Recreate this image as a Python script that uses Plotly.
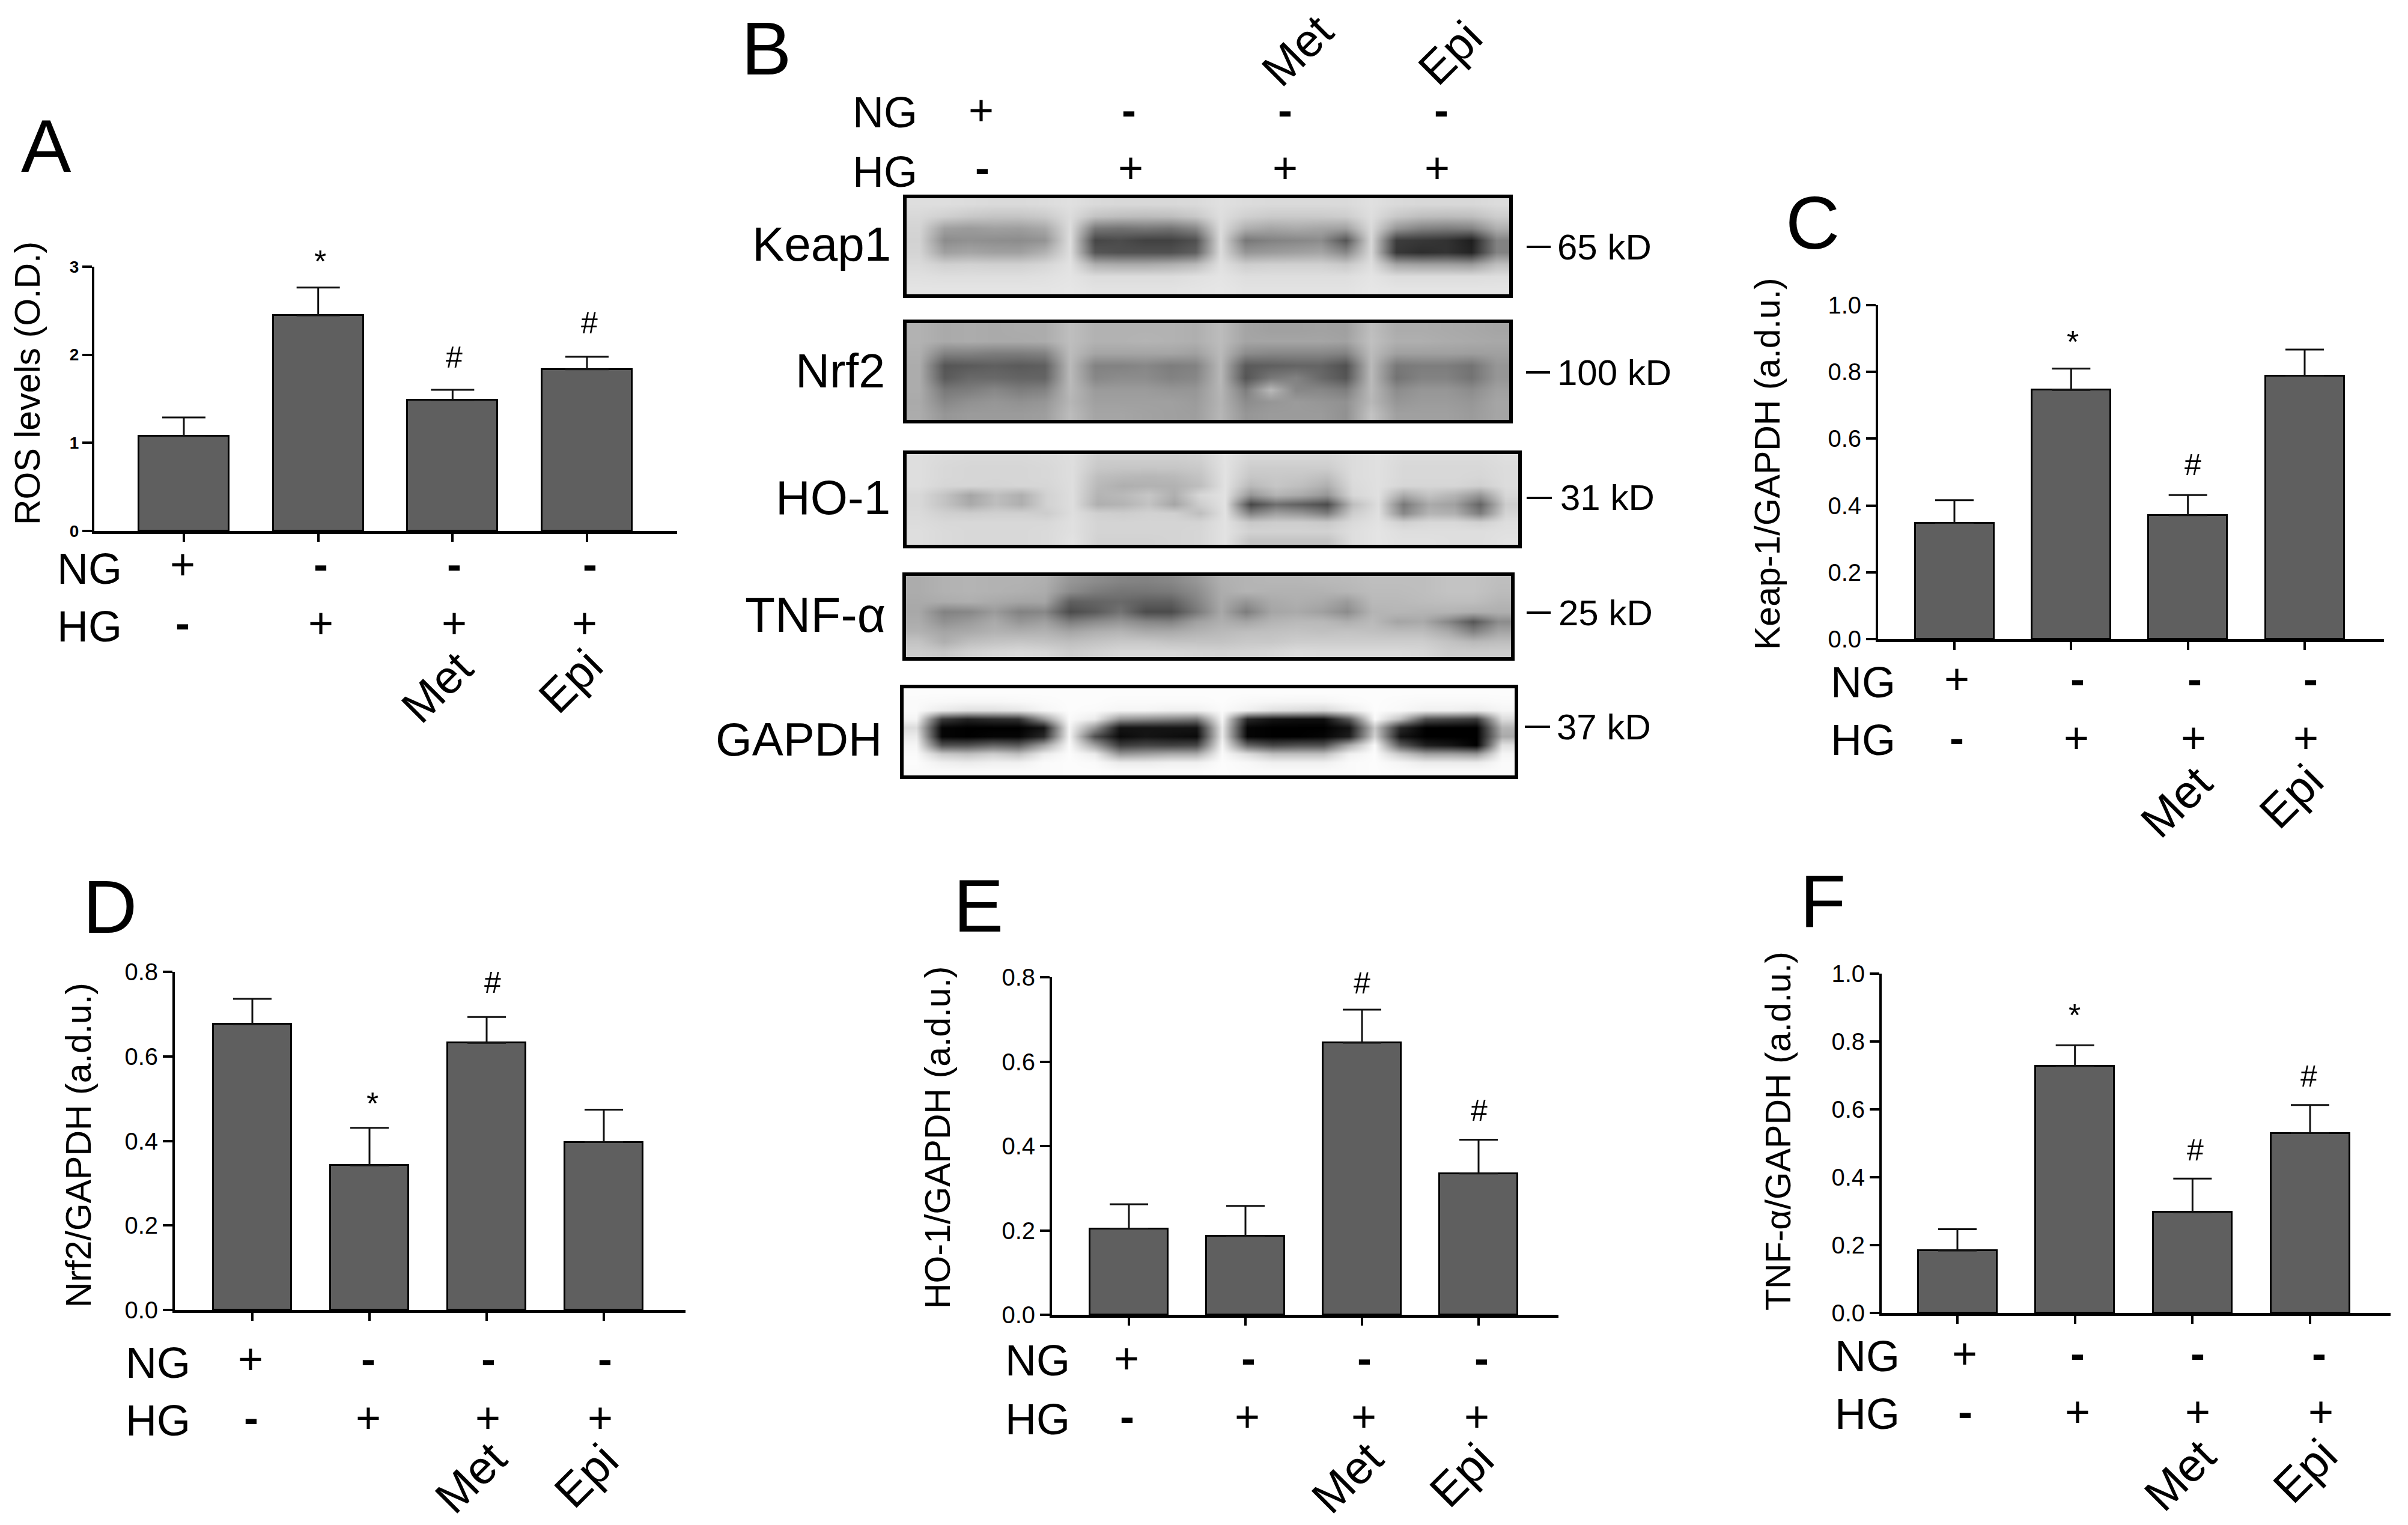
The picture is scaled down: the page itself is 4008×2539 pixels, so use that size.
import plotly.graph_objects as go

W, H = 4008, 2539
FONT = "Liberation Sans"

GROUPS = ["NG", "HG", "HG+Met", "HG+Epi"]
NG_SIGNS = ["+", "-", "-", "-"]
HG_SIGNS = ["-", "+", "+", "+"]

# bar panels: values and upper error bars
A_VALUES = [1.078, 2.447, 1.484, 1.836]
A_ERRORS = [0.21, 0.316, 0.119, 0.141]
C_VALUES = [0.348, 0.746, 0.371, 0.788]
C_ERRORS = [0.068, 0.064, 0.060, 0.079]
D_VALUES = [0.676, 0.342, 0.632, 0.397]
D_ERRORS = [0.060, 0.089, 0.061, 0.077]
E_VALUES = [0.204, 0.187, 0.645, 0.335]
E_ERRORS = [0.058, 0.071, 0.078, 0.080]
F_VALUES = [0.184, 0.728, 0.297, 0.530]
F_ERRORS = [0.063, 0.061, 0.099, 0.083]

# blot grey levels (0 black .. 255 white), one row per list
KEAP1 = [
    [222, 222, 220, 218, 218, 220, 224, 218, 216, 216, 216, 218, 224, 220, 218, 218, 218, 218, 224, 218, 216, 216, 216, 220],
    [216, 208, 200, 196, 196, 202, 220, 195, 190, 188, 190, 200, 222, 208, 202, 202, 202, 205, 222, 200, 190, 188, 190, 205],
    [212, 160, 155, 160, 158, 168, 220, 120, 115, 120, 115, 135, 220, 175, 165, 170, 165, 160, 218, 150, 130, 125, 130, 175],
    [210, 140, 145, 142, 140, 148, 222, 70, 75, 65, 65, 80, 220, 120, 130, 135, 140, 85, 216, 60, 55, 50, 30, 130],
    [212, 160, 165, 160, 160, 178, 222, 85, 80, 80, 80, 95, 220, 150, 155, 160, 165, 135, 216, 55, 45, 50, 35, 130],
    [218, 208, 210, 208, 208, 214, 226, 175, 170, 170, 175, 185, 224, 205, 208, 208, 208, 200, 222, 165, 160, 160, 155, 190],
    [224, 222, 222, 222, 222, 224, 228, 220, 220, 220, 220, 224, 228, 222, 222, 222, 222, 222, 228, 220, 220, 220, 220, 222],
    [228, 228, 228, 228, 228, 228, 230, 226, 226, 226, 226, 228, 230, 226, 226, 226, 226, 226, 230, 228, 228, 228, 228, 228],
]
NRF2 = [
    [178, 170, 172, 170, 172, 172, 190, 178, 178, 178, 178, 175, 188, 165, 160, 160, 162, 160, 190, 172, 172, 170, 168, 165],
    [178, 170, 172, 170, 170, 172, 190, 178, 178, 180, 178, 175, 188, 165, 165, 165, 165, 162, 192, 175, 175, 172, 170, 168],
    [175, 130, 130, 125, 125, 130, 188, 165, 165, 165, 165, 160, 186, 140, 135, 135, 135, 130, 188, 160, 160, 160, 158, 160],
    [172, 85, 90, 95, 90, 95, 186, 130, 130, 135, 125, 130, 184, 90, 95, 100, 100, 80, 186, 120, 125, 125, 115, 150],
    [172, 90, 105, 105, 100, 100, 186, 135, 140, 140, 130, 135, 184, 85, 120, 130, 105, 85, 186, 115, 130, 130, 115, 150],
    [172, 120, 125, 135, 125, 130, 185, 155, 155, 155, 150, 150, 182, 125, 185, 135, 135, 125, 186, 140, 150, 150, 140, 160],
    [170, 135, 145, 150, 145, 150, 182, 160, 160, 160, 160, 155, 180, 140, 150, 155, 150, 145, 184, 150, 155, 155, 150, 165],
    [172, 150, 155, 155, 155, 158, 188, 165, 165, 162, 160, 158, 182, 150, 155, 155, 155, 145, 195, 160, 160, 160, 155, 165],
]
HO1 = [
    [222, 218, 216, 216, 216, 218, 222, 205, 205, 205, 205, 208, 226, 212, 212, 212, 212, 220, 224, 218, 218, 218, 218, 222],
    [222, 216, 214, 214, 214, 216, 222, 200, 198, 198, 198, 202, 226, 205, 205, 205, 205, 220, 224, 216, 216, 216, 216, 220],
    [222, 216, 214, 214, 214, 216, 222, 190, 185, 182, 185, 195, 226, 198, 200, 198, 190, 220, 224, 216, 216, 216, 214, 220],
    [222, 214, 214, 212, 214, 214, 222, 185, 175, 178, 178, 190, 226, 185, 198, 190, 175, 218, 224, 214, 214, 214, 208, 220],
    [216, 195, 165, 190, 175, 210, 222, 180, 185, 198, 175, 215, 226, 150, 180, 170, 150, 215, 224, 170, 195, 180, 150, 215],
    [216, 195, 170, 190, 175, 210, 222, 175, 180, 195, 165, 205, 226, 70, 110, 95, 75, 190, 222, 120, 170, 160, 100, 205],
    [218, 208, 205, 208, 208, 205, 222, 208, 205, 210, 208, 190, 226, 130, 160, 150, 125, 205, 224, 135, 180, 175, 125, 212],
    [220, 216, 216, 216, 216, 216, 224, 212, 212, 212, 212, 212, 226, 200, 205, 205, 200, 218, 226, 208, 216, 216, 208, 222],
    [222, 218, 216, 216, 216, 218, 224, 212, 212, 212, 212, 214, 226, 210, 210, 210, 210, 222, 228, 222, 222, 222, 222, 224],
    [222, 218, 216, 216, 216, 218, 226, 210, 210, 210, 212, 214, 226, 195, 195, 195, 195, 222, 228, 224, 224, 222, 222, 226],
]
TNF = [
    [172, 178, 180, 178, 178, 175, 150, 140, 132, 130, 135, 150, 175, 180, 182, 182, 184, 186, 190, 190, 190, 195, 195, 190],
    [172, 178, 180, 178, 176, 172, 140, 125, 118, 118, 122, 140, 172, 180, 178, 178, 178, 182, 188, 188, 190, 195, 195, 188],
    [170, 172, 175, 170, 165, 165, 95, 100, 105, 95, 95, 130, 170, 150, 170, 175, 170, 155, 185, 185, 188, 190, 190, 182],
    [168, 130, 135, 155, 130, 135, 75, 90, 115, 75, 75, 120, 168, 125, 165, 170, 160, 140, 180, 182, 180, 180, 175, 175],
    [172, 145, 155, 170, 150, 160, 125, 140, 150, 135, 130, 160, 175, 165, 180, 185, 185, 175, 186, 165, 170, 135, 85, 140],
    [178, 165, 170, 178, 175, 178, 165, 175, 180, 170, 170, 178, 185, 190, 192, 195, 192, 195, 192, 188, 188, 170, 130, 165],
    [195, 175, 190, 195, 198, 195, 190, 195, 200, 200, 195, 195, 195, 200, 200, 205, 205, 205, 205, 205, 205, 195, 185, 190],
    [205, 200, 210, 215, 218, 215, 205, 210, 215, 215, 215, 212, 210, 212, 215, 220, 218, 218, 218, 218, 215, 205, 205, 205],
]
GAPDH = [
    [252, 252, 252, 252, 252, 252, 252, 252, 252, 252, 252, 252, 252, 252, 252, 252, 252, 252, 252, 252, 252, 252, 252, 252],
    [250, 248, 246, 246, 248, 250, 252, 252, 250, 250, 250, 250, 252, 248, 246, 245, 245, 250, 252, 250, 248, 248, 248, 250],
    [250, 235, 225, 225, 230, 245, 252, 250, 245, 245, 240, 240, 250, 240, 225, 220, 215, 235, 252, 248, 240, 240, 235, 245],
    [245, 60, 35, 45, 50, 150, 250, 235, 150, 140, 130, 120, 245, 40, 20, 15, 15, 90, 250, 190, 80, 70, 60, 220],
    [220, 5, 0, 0, 0, 20, 245, 150, 20, 20, 20, 20, 235, 5, 0, 0, 0, 20, 200, 40, 0, 0, 0, 180],
    [235, 5, 0, 5, 5, 40, 245, 80, 10, 20, 15, 10, 235, 5, 0, 0, 5, 30, 210, 20, 0, 0, 0, 170],
    [245, 80, 80, 100, 90, 160, 250, 160, 60, 70, 65, 70, 245, 100, 70, 80, 80, 170, 250, 90, 30, 20, 0, 225],
    [250, 200, 190, 205, 190, 235, 252, 235, 150, 160, 170, 170, 250, 220, 190, 190, 190, 240, 252, 200, 160, 160, 150, 245],
    [252, 240, 235, 240, 240, 250, 252, 250, 235, 235, 240, 240, 252, 248, 240, 240, 240, 250, 252, 245, 235, 235, 235, 250],
    [250, 250, 250, 250, 250, 250, 252, 252, 250, 250, 250, 250, 252, 250, 250, 250, 250, 250, 252, 250, 250, 250, 250, 250],
]

# geometry: axis box in page pixels, first/last bar centre, bar width, text spots
PANELS = [
    dict(name="A", vals=A_VALUES, errs=A_ERRORS, ymax=3, ticks=[0, 1, 2, 3], fmt="d", tfont=28, bold=True,
         box=(157, 1127, 444, 884), cen=(306, 977), bw=150, cap=36, title="ROS levels (O.D.)", tx=(46, 638),
         letter=(77, 243), ng=(149, 947), hg=(149, 1043),
         ngx=[304, 534, 756, 982], ngy=939, hgx=[304, 534, 756, 973], hgy=1037,
         met=(727, 1144), epi=(949, 1134), marks=[("*", 533, 435), ("#", 756, 595), ("#", 981, 538)]),
    dict(name="C", vals=C_VALUES, errs=C_ERRORS, ymax=1, ticks=[0, .2, .4, .6, .8, 1], fmt=".1f", tfont=40, bold=False,
         box=(3126, 3968, 508, 1064), cen=(3253, 3836), bw=131, cap=32, title="Keap-1/GAPDH (a.d.u.)", tx=(2942, 772),
         letter=(3017, 370), ng=(3101, 1136), hg=(3101, 1232),
         ngx=[3257, 3458, 3653, 3846], ngy=1130, hgx=[3257, 3456, 3651, 3838], hgy=1228,
         met=(3622, 1335), epi=(3813, 1326), marks=[("*", 3450, 569), ("#", 3650, 774)]),
    dict(name="D", vals=D_VALUES, errs=D_ERRORS, ymax=.8, ticks=[0, .2, .4, .6, .8], fmt=".1f", tfont=40, bold=False,
         box=(291, 1141, 1618, 2181), cen=(420, 1005), bw=130, cap=32, title="Nrf2/GAPDH (a.d.u.)", tx=(131, 1907),
         letter=(183, 1509), ng=(263, 2269), hg=(263, 2365),
         ngx=[417, 613, 813, 1007], ngy=2262, hgx=[418, 613, 812, 999], hgy=2360,
         met=(783, 2460), epi=(975, 2457), marks=[("*", 620, 1837), ("#", 820, 1636)]),
    dict(name="E", vals=E_VALUES, errs=E_ERRORS, ymax=.8, ticks=[0, .2, .4, .6, .8], fmt=".1f", tfont=40, bold=False,
         box=(1751, 2594, 1627, 2189), cen=(1879, 2461), bw=130, cap=32, title="HO-1/GAPDH (a.d.u.)", tx=(1561, 1894),
         letter=(1628, 1508), ng=(1727, 2265), hg=(1727, 2363),
         ngx=[1875, 2078, 2271, 2466], ngy=2261, hgx=[1876, 2076, 2270, 2458], hgy=2358,
         met=(2242, 2460), epi=(2432, 2456), marks=[("#", 2267, 1637), ("#", 2462, 1849)]),
    dict(name="F", vals=F_VALUES, errs=F_ERRORS, ymax=1, ticks=[0, .2, .4, .6, .8, 1], fmt=".1f", tfont=40, bold=False,
         box=(3132, 3979, 1621, 2186), cen=(3258, 3845), bw=131, cap=32, title="TNF-\u03b1/GAPDH (a.d.u.)", tx=(2960, 1883),
         letter=(3034, 1500), ng=(3108, 2258), hg=(3108, 2354),
         ngx=[3270, 3458, 3658, 3860], ngy=2253, hgx=[3271, 3458, 3658, 3863], hgy=2350,
         met=(3628, 2456), epi=(3836, 2449), marks=[("*", 3453, 1690), ("#", 3654, 1915), ("#", 3843, 1792)]),
]

# box = outer edge of the black frame; the frame line sits outside the plot area
FRAME = 6
BLOTS = [
    dict(z=KEAP1, box=(1503, 2518, 324, 496), label="Keap1", size=80, lx=1485, ly=406, kd="65 kD", dy=411, kx=2590, dash=(2541, 2581)),
    dict(z=NRF2, box=(1503, 2518, 532, 705), label="Nrf2", size=79, lx=1475, ly=617, kd="100 kD", dy=620, kx=2590, dash=(2540, 2580)),
    dict(z=HO1, box=(1503, 2533, 750, 913), label="HO-1", size=80, lx=1484, ly=829, kd="31 kD", dy=829, kx=2595, dash=(2541, 2583)),
    dict(z=TNF, box=(1502, 2521, 953, 1100), label="TNF-\u03b1", size=82, lx=1476, ly=1023, kd="25 kD", dy=1020, kx=2592, dash=(2541, 2581)),
    dict(z=GAPDH, box=(1498, 2527, 1140, 1297), label="GAPDH", size=78, lx=1470, ly=1231, kd="37 kD", dy=1210, kx=2589, dash=(2538, 2580)),
]
B_TEXT = dict(letter=(1275, 80), ng=(1473, 187), hg=(1473, 286),
              ngx=[1633, 1879, 2139, 2399], ngy=183, hgx=[1635, 1882, 2139, 2392], hgy=279,
              met=(2159, 84), epi=(2413, 88))

BAR_FILL = "#5f5f5f"
fig = go.Figure()
layout = {}
notes = []
shapes = []


def note(text, x, y, size, angle=0, anchor="center", color="black", weight="normal"):
    notes.append(dict(text=text, x=x / W, y=1 - y / H, xref="paper", yref="paper", showarrow=False,
                      xanchor=anchor, yanchor="middle", textangle=angle,
                      font=dict(family=FONT, size=size, color=color, weight=weight)))


def sign(text, x, y):
    note(text, x, y, 72, weight="bold" if text == "-" else "normal")


def rows(p):
    note("NG", *p["ng"], 72)
    note("HG", *p["hg"], 72)
    for i in range(4):
        sign(NG_SIGNS[i], p["ngx"][i], p["ngy"])
        sign(HG_SIGNS[i], p["hgx"][i], p["hgy"])
    note("Met", *p["met"], 77, angle=-45)
    note("Epi", *p["epi"], 77, angle=-45)
    note(p.get("name", "B"), *p["letter"], 125)


n = 0
for p in PANELS:
    n += 1
    xa, ya = f"xaxis{n}", f"yaxis{n}"
    xr, yr = f"x{n}", f"y{n}"
    left, right, top, bottom = p["box"]
    sp = (p["cen"][1] - p["cen"][0]) / 3
    fig.add_trace(go.Bar(x=GROUPS, y=p["vals"], xaxis=xr, yaxis=yr, width=p["bw"] / sp,
                         marker=dict(color=BAR_FILL, line=dict(color="black", width=3)),
                         error_y=dict(type="data", symmetric=False, array=p["errs"], arrayminus=[0] * 4,
                                      color="#111111", thickness=3, width=p["cap"]),
                         showlegend=False))
    layout[xa] = dict(domain=[left / W, right / W], anchor=yr, type="category", categoryorder="array",
                      categoryarray=GROUPS, range=[(left - p["cen"][0]) / sp, (right - p["cen"][0]) / sp],
                      showline=True, linecolor="black", linewidth=5, ticks="outside", ticklen=13, tickwidth=4,
                      tickcolor="black", showticklabels=False, showgrid=False, zeroline=False)
    layout[ya] = dict(domain=[1 - bottom / H, 1 - top / H], anchor=xr, range=[0, p["ymax"]],
                      tickvals=p["ticks"], tickformat=p["fmt"], showline=True, linecolor="black", linewidth=4,
                      ticks="outside", ticklen=16, tickwidth=4, tickcolor="black", showgrid=False, zeroline=False,
                      tickfont=dict(family=FONT, size=p["tfont"], color="black",
                                    weight="bold" if p["bold"] else "normal"))
    note(p["title"], *p["tx"], 59, angle=-90)
    for m, x, y in p["marks"]:
        note(m, x, y, 52 if m == "*" else 50)
    rows(p)

for b in BLOTS:
    n += 1
    xa, ya = f"xaxis{n}", f"yaxis{n}"
    xr, yr = f"x{n}", f"y{n}"
    left, right, top, bottom = b["box"]
    z = b["z"]
    fig.add_trace(go.Heatmap(z=z, xaxis=xr, yaxis=yr, zmin=0, zmax=255, zsmooth="best", showscale=False,
                             colorscale=[[0, "#000000"], [1, "#ffffff"]], hoverinfo="skip"))
    layout[xa] = dict(domain=[(left + FRAME) / W, (right - FRAME) / W], anchor=yr, range=[-0.5, len(z[0]) - 0.5],
                      showline=True, mirror=True, linecolor="black", linewidth=FRAME, showticklabels=False, ticks="",
                      showgrid=False, zeroline=False)
    layout[ya] = dict(domain=[1 - (bottom - FRAME) / H, 1 - (top + FRAME) / H], anchor=xr,
                      range=[len(z) - 0.5, -0.5], showline=True, mirror=True, linecolor="black", linewidth=FRAME,
                      showticklabels=False, ticks="", showgrid=False, zeroline=False)
    note(b["label"], b["lx"], b["ly"], b["size"], anchor="right")
    note(b["kd"], b["kx"], b["dy"], 60, anchor="left")
    shapes.append(dict(type="line", xref="paper", yref="paper", x0=b["dash"][0] / W, x1=b["dash"][1] / W,
                       y0=1 - b["dy"] / H, y1=1 - b["dy"] / H, line=dict(color="black", width=4)))

rows(B_TEXT)

fig.update_layout(width=W, height=H, margin=dict(l=0, r=0, t=0, b=0, autoexpand=False), paper_bgcolor="white",
                  plot_bgcolor="white", annotations=notes, shapes=shapes, bargap=0, showlegend=False, **layout)
fig.write_html("out.html", config=dict(displayModeBar=False),
               post_script="document.body.style.margin='0';document.body.style.overflow='hidden';")
